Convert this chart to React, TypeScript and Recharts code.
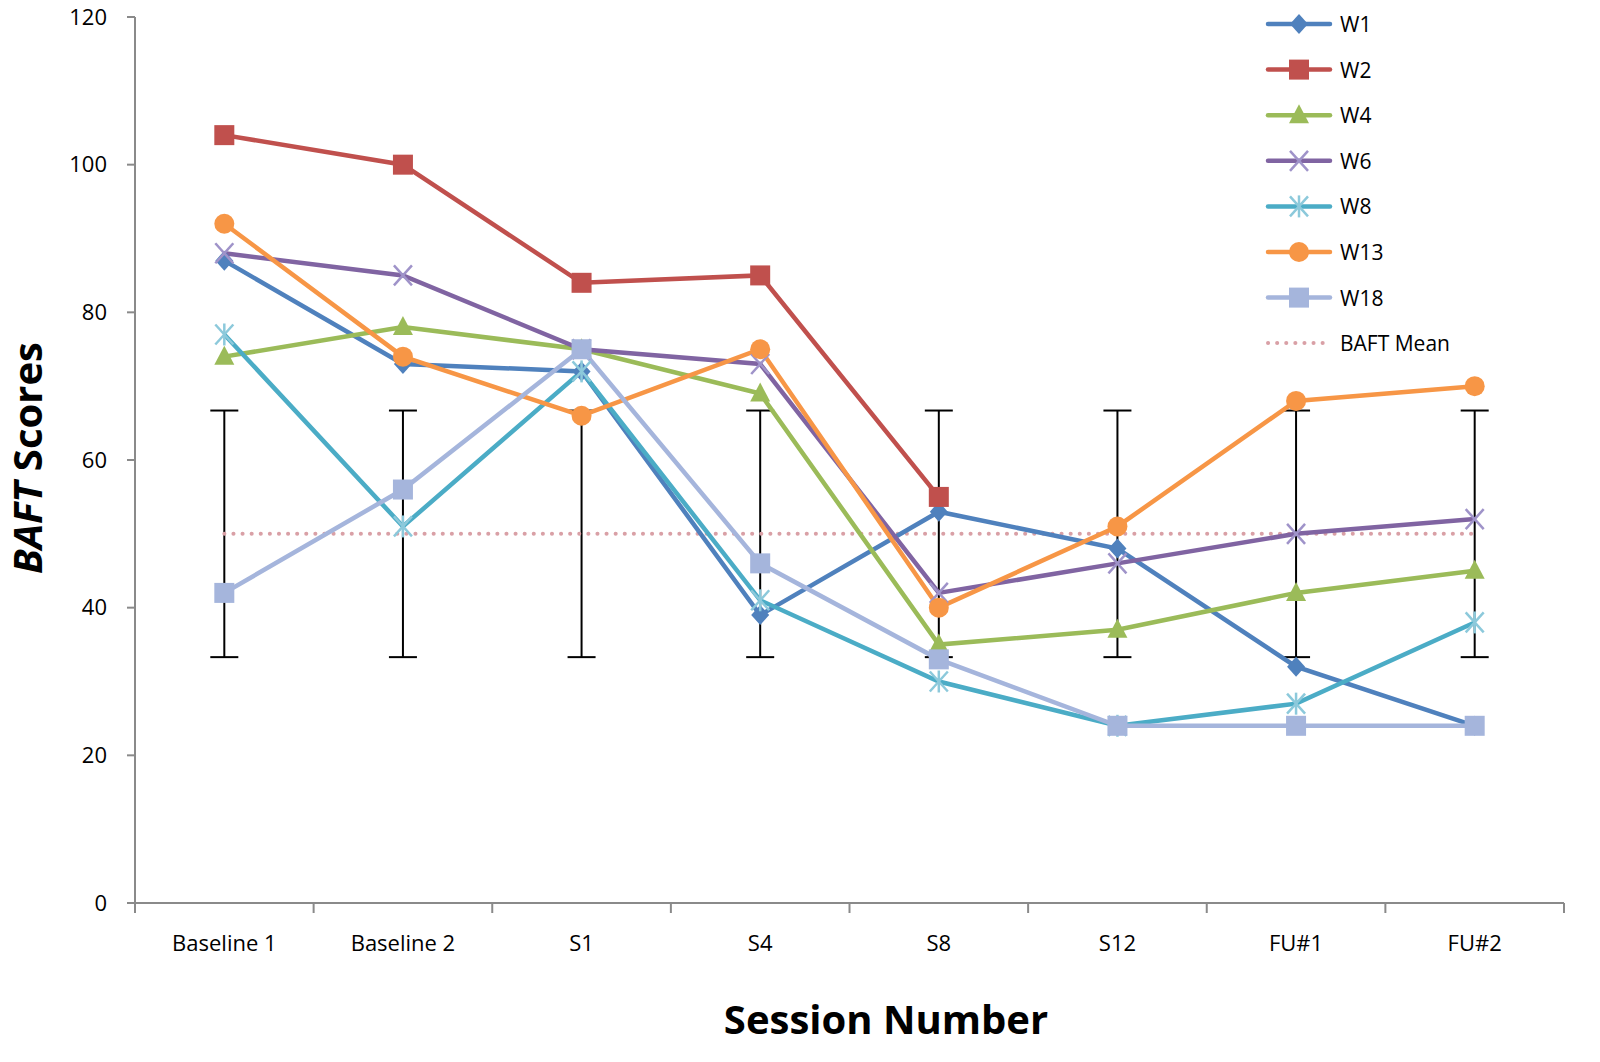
import React from "react";
import {
  LineChart,
  Line,
  XAxis,
  YAxis,
  ErrorBar,
} from "recharts";

const sessions = ["Baseline 1", "Baseline 2", "S1", "S4", "S8", "S12", "FU#1", "FU#2"];
const w1 = [87, 73, 72, 39, 53, 48, 32, 24];
const w2 = [104, 100, 84, 85, 55, null, null, null];
const w4 = [74, 78, 75, 69, 35, 37, 42, 45];
const w6 = [88, 85, 75, 73, 42, 46, 50, 52];
const w8 = [77, 51, 72, 41, 30, 24, 27, 38];
const w13 = [92, 74, 66, 75, 40, 51, 68, 70];
const w18 = [42, 56, 75, 46, 33, 24, 24, 24];
const baftMean = [50, 50, 50, 50, 50, 50, 50, 50];
const baftSd = [16.7, 16.7, 16.7, 16.7, 16.7, 16.7, 16.7, 16.7];
const yTicks = [0, 20, 40, 60, 80, 100, 120];

const series = [
  { key: "W1", values: w1, color: "#4F81BD", light: "#4F81BD", shape: "diamond" },
  { key: "W2", values: w2, color: "#C0504D", light: "#C0504D", shape: "square" },
  { key: "W4", values: w4, color: "#9BBB59", light: "#9BBB59", shape: "triangle" },
  { key: "W6", values: w6, color: "#8064A2", light: "#9F93C9", shape: "x" },
  { key: "W8", values: w8, color: "#4BACC6", light: "#8CC9DB", shape: "star" },
  { key: "W13", values: w13, color: "#F79646", light: "#F79646", shape: "circle" },
  { key: "W18", values: w18, color: "#A5B5DC", light: "#A5B5DC", shape: "square" },
];

const data = sessions.map((s, i) => {
  const row: any = { session: s, mean: baftMean[i], sd: baftSd[i] };
  series.forEach((ser) => (row[ser.key] = ser.values[i]));
  return row;
});

const FONT = "'Open Sans', 'Liberation Sans', sans-serif";
const W = 1600;
const H = 1062;
const MARGIN = { top: 17, right: 36, bottom: 99, left: 65 };
const Y_AXIS_W = 70;
const X_AXIS_H = 60;
const PLOT_W = W - MARGIN.left - Y_AXIS_W - MARGIN.right;
const BAND = PLOT_W / sessions.length;
const AXIS = "#8a8a8a";
const MEAN_COLOR = "#D9A0A6";

const drawMarker = (shape: string, color: string, light: string, cx: number, cy: number) => {
  switch (shape) {
    case "diamond":
      return <polygon points={`${cx},${cy - 10} ${cx + 9},${cy} ${cx},${cy + 10} ${cx - 9},${cy}`} fill={color} />;
    case "square":
      return <rect x={cx - 10} y={cy - 10} width={20} height={20} fill={color} />;
    case "triangle":
      return <polygon points={`${cx},${cy - 11} ${cx + 10},${cy + 8} ${cx - 10},${cy + 8}`} fill={color} />;
    case "x":
      return (
        <g stroke={light} strokeWidth={2.5}>
          <line x1={cx - 9} y1={cy - 10} x2={cx + 9} y2={cy + 10} />
          <line x1={cx - 9} y1={cy + 10} x2={cx + 9} y2={cy - 10} />
        </g>
      );
    case "star":
      return (
        <g stroke={light} strokeWidth={2.5}>
          <line x1={cx - 9} y1={cy - 10} x2={cx + 9} y2={cy + 10} />
          <line x1={cx - 9} y1={cy + 10} x2={cx + 9} y2={cy - 10} />
          <line x1={cx} y1={cy - 11} x2={cx} y2={cy + 11} />
        </g>
      );
    case "circle":
      return <circle cx={cx} cy={cy} r={10} fill={color} />;
    default:
      return null;
  }
};

const makeDot = (name: string, shape: string, color: string, light: string) => (p: any) => {
  if (p.cx == null || p.cy == null || p.value == null) return <g key={`${name}-${p.index}`} />;
  return <g key={`${name}-${p.index}`}>{drawMarker(shape, color, light, p.cx, p.cy)}</g>;
};

const SessionTick = (props: any) => {
  const { x, y, payload, index } = props;
  return (
    <g>
      <line x1={x - BAND / 2} y1={y} x2={x - BAND / 2} y2={y + 10} stroke={AXIS} strokeWidth={2} />
      {index === sessions.length - 1 && (
        <line x1={x + BAND / 2} y1={y} x2={x + BAND / 2} y2={y + 10} stroke={AXIS} strokeWidth={2} />
      )}
      <text x={x} y={y + 48} textAnchor="middle" fontSize={22} fontFamily={FONT} fill="#000">
        {payload.value}
      </text>
    </g>
  );
};

const ChartLegend = () => (
  <svg width={230} height={370} style={{ position: "absolute", left: 1262, top: 0 }}>
    {series.map((s, i) => {
      const y = 24 + i * 45.6;
      return (
        <g key={s.key}>
          <line x1={6} y1={y} x2={68} y2={y} stroke={s.color} strokeWidth={4.5} strokeLinecap="round" />
          {drawMarker(s.shape, s.color, s.light, 37, y)}
          <text x={78} y={y + 8} fontSize={21} fontFamily={FONT} fill="#000">
            {s.key}
          </text>
        </g>
      );
    })}
    <line x1={6} y1={343} x2={62} y2={343} stroke={MEAN_COLOR} strokeWidth={4} strokeDasharray="0.1 9" strokeLinecap="round" />
    <text x={78} y={351} fontSize={21} fontFamily={FONT} fill="#000">
      BAFT Mean
    </text>
  </svg>
);

export default function App() {
  return (
    <div style={{ position: "absolute", left: 0, top: 0, width: W, height: H, background: "#fff" }}>
      <LineChart width={W} height={H} data={data} margin={MARGIN}>
        <XAxis
          dataKey="session"
          height={X_AXIS_H}
          padding={{ left: BAND / 2, right: BAND / 2 }}
          axisLine={{ stroke: AXIS, strokeWidth: 2 }}
          tickLine={false}
          tickSize={0}
          tickMargin={0}
          tick={<SessionTick />}
          interval={0}
          label={{
            content: () => (
              <text x={886} y={1034} textAnchor="middle" fontSize={40} fontWeight="bold" fontFamily={FONT} fill="#000">
                Session Number
              </text>
            ),
          }}
        />
        <YAxis
          width={Y_AXIS_W}
          domain={[0, 120]}
          ticks={yTicks}
          interval={0}
          axisLine={{ stroke: AXIS, strokeWidth: 2 }}
          tickLine={{ stroke: AXIS, strokeWidth: 2 }}
          tickSize={8}
          tickMargin={20}
          tick={{ fontSize: 22, fontFamily: FONT, fill: "#000" }}
          label={{
            content: () => (
              <text
                x={42}
                y={458}
                transform="rotate(-90 42 458)"
                textAnchor="middle"
                fontSize={40}
                fontWeight="bold"
                fontFamily={FONT}
                fill="#000"
              >
                <tspan fontStyle="italic">BAFT</tspan> Scores
              </text>
            ),
          }}
        />
        <Line
          dataKey="mean"
          name="BAFT Mean"
          stroke={MEAN_COLOR}
          strokeWidth={4}
          strokeDasharray="0.1 9"
          strokeLinecap="round"
          dot={false}
          activeDot={false}
          isAnimationActive={false}
        >
          <ErrorBar dataKey="sd" width={14} stroke="#000" strokeWidth={2} direction="y" />
        </Line>
        {series.map((s) => (
          <Line
            key={s.key}
            dataKey={s.key}
            stroke={s.color}
            strokeWidth={4.5}
            dot={makeDot(s.key, s.shape, s.color, s.light)}
            activeDot={false}
            isAnimationActive={false}
          />
        ))}
      </LineChart>
      <ChartLegend />
    </div>
  );
}
